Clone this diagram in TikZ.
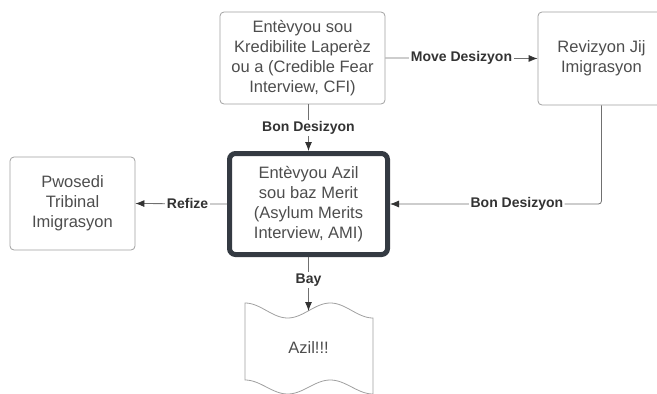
\documentclass[tikz,border=0pt]{standalone}
\usepackage{fontspec}
\setmainfont{Liberation Sans}
\usetikzlibrary{arrows.meta}
\definecolor{boxline}{HTML}{A0A0A0}
\definecolor{boxtext}{HTML}{4D4D4D}
\definecolor{conline}{HTML}{707070}
\definecolor{tipcol}{HTML}{333333}
\definecolor{amiline}{HTML}{343A42}
\begin{document}
\begin{tikzpicture}[x=1pt,y=-1pt,
	box/.style={draw=boxline, line width=0.8pt, rounded corners=4pt, align=center,
		text=boxtext, font=\fontsize{16.5}{20}\selectfont, inner sep=0pt},
	lbl/.style={fill=white, text=tipcol, font=\fontsize{14}{16}\selectfont\bfseries, inner sep=1.5pt},
	arr/.style={draw=conline, line width=0.8pt, -{Latex[length=9pt,width=7pt,color=tipcol]}}]
		\useasboundingbox (0,0) rectangle (657,394);
		
		\node[box, minimum width=165pt, minimum height=92pt] (cfi) at (302.5,58)
			{Entèvyou sou\\Kredibilite Laperèz\\ou a (Credible Fear\\Interview, CFI)};
		\node[box, minimum width=127pt, minimum height=93pt] (rev) at (601.5,58.5)
			{Revizyon Jij\\Imigrasyon};
		\node[box, draw=amiline, line width=5pt, rounded corners=6pt,
			minimum width=158pt, minimum height=101pt] (ami) at (308.5,204)
			{Entèvyou Azil\\sou baz Merit\\(Asylum Merits\\Interview, AMI)};
		\node[box, minimum width=125pt, minimum height=93pt] (pws) at (72.5,203.5)
			{Pwosedi\\Tribinal\\Imigrasyon};
		
		% tape
		\draw[boxline, line width=0.8pt]
			plot[domain=245:373, samples=60] (\x,{310.5-7.5*cos(4.21875*(\x-245))})
			-- plot[domain=373:245, samples=60] (\x,{387-7*cos(4.21875*(\x-245))}) -- cycle;
		\node[text=boxtext, font=\fontsize{16.5}{20}\selectfont] (azil) at (308.5,348) {Azil!!!};
		\coordinate (tapetop) at (308.5,311);
		
		\draw[arr] (ami.north |- cfi.south) -- node[lbl]{Bon Desizyon} (ami.north);
		\draw[arr] (cfi.east) -- node[lbl]{Move Desizyon} (rev.west);
		\draw[arr, rounded corners=3pt] (rev.south) |- node[lbl, pos=0.7]{Bon Desizyon} (ami.east);
		\draw[arr] (ami.west) -- node[lbl, pos=0.43]{Refize} (pws.east);
		\draw[arr] (ami.south) -- node[lbl, pos=0.43]{Bay} (tapetop);
	\end{tikzpicture}
\end{document}
